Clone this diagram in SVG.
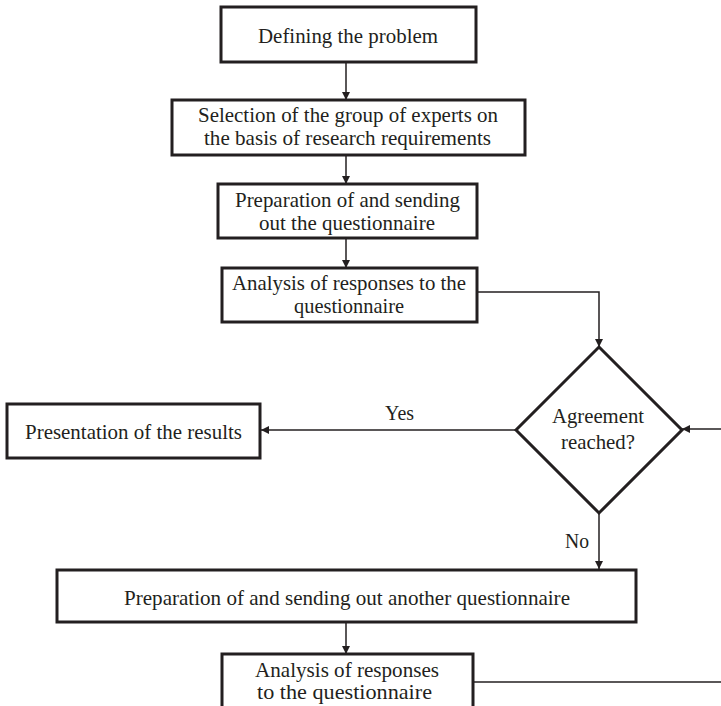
<svg xmlns="http://www.w3.org/2000/svg" width="721" height="706" viewBox="0 0 721 706">
<style>
.box{fill:#fff;stroke:#231f20;stroke-width:3}
.t{font-family:"Liberation Serif","Times New Roman",serif;font-size:21px;fill:#231f20}
.c{fill:none;stroke:#231f20;stroke-width:1.5}
</style>
<defs>
<marker id="ah" viewBox="0 0 10 10" refX="10" refY="5" markerWidth="8" markerHeight="8" markerUnits="userSpaceOnUse" orient="auto">
<path d="M0,0 L10,5 L0,10 z" fill="#231f20"/>
</marker>
</defs>
<g id="connectors">
<path class="c" d="M346,62 V100" marker-end="url(#ah)"/>
<path class="c" d="M346,155 V184" marker-end="url(#ah)"/>
<path class="c" d="M346,238 V268" marker-end="url(#ah)"/>
<path class="c" d="M477,292 H599 V347" marker-end="url(#ah)"/>
<path class="c" d="M516,430 H261" marker-end="url(#ah)"/>
<path class="c" d="M721,429 H682" marker-end="url(#ah)"/>
<path class="c" d="M599,513 V569" marker-end="url(#ah)"/>
<path class="c" d="M346,622 V654" marker-end="url(#ah)"/>
<path class="c" d="M473,682 H721"/>
<text class="t" x="385" y="420" textLength="29" lengthAdjust="spacingAndGlyphs">Yes</text>
<text class="t" x="565" y="548" textLength="24" lengthAdjust="spacingAndGlyphs">No</text>
</g>
<g id="n1"><rect class="box" x="221" y="7" width="255" height="55"/><text class="t" x="258" y="43" textLength="180" lengthAdjust="spacingAndGlyphs">Defining the problem</text></g>
<g id="n2"><rect class="box" x="172" y="100" width="353" height="55"/><text class="t" x="198" y="122" textLength="300" lengthAdjust="spacingAndGlyphs">Selection of the group of experts on</text><text class="t" x="204" y="145" textLength="287" lengthAdjust="spacingAndGlyphs">the basis of research requirements</text></g>
<g id="n3"><rect class="box" x="218" y="184" width="259" height="54"/><text class="t" x="235" y="207" textLength="225" lengthAdjust="spacingAndGlyphs">Preparation of and sending</text><text class="t" x="259" y="230" textLength="176" lengthAdjust="spacingAndGlyphs">out the questionnaire</text></g>
<g id="n4"><rect class="box" x="222" y="268" width="255" height="54"/><text class="t" x="232" y="290" textLength="234" lengthAdjust="spacingAndGlyphs">Analysis of responses to the</text><text class="t" x="294" y="313" textLength="110" lengthAdjust="spacingAndGlyphs">questionnaire</text></g>
<g id="n5"><path class="box" d="M599,347 L682,430 L599,513 L516,430 Z"/><text class="t" x="552" y="423" textLength="92" lengthAdjust="spacingAndGlyphs">Agreement</text><text class="t" x="561" y="449" textLength="74" lengthAdjust="spacingAndGlyphs">reached?</text></g>
<g id="n6"><rect class="box" x="7" y="404" width="253" height="54"/><text class="t" x="25" y="439" textLength="217" lengthAdjust="spacingAndGlyphs">Presentation of the results</text></g>
<g id="n7"><rect class="box" x="57" y="570" width="579" height="52"/><text class="t" x="124" y="605" textLength="446" lengthAdjust="spacingAndGlyphs">Preparation of and sending out another questionnaire</text></g>
<g id="n8"><rect class="box" x="222" y="654" width="251" height="60"/><text class="t" x="255" y="677" textLength="184" lengthAdjust="spacingAndGlyphs">Analysis of responses</text><text class="t" x="257" y="699" textLength="175" lengthAdjust="spacingAndGlyphs">to the questionnaire</text></g>
</svg>
